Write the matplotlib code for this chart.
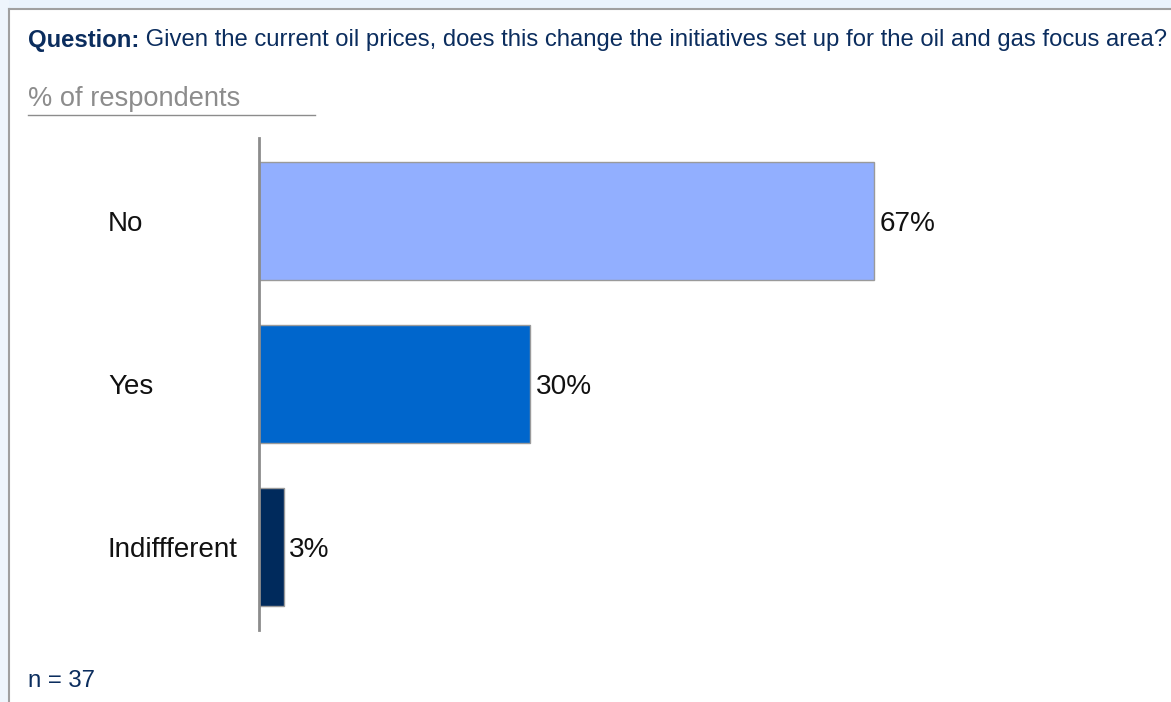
import matplotlib
matplotlib.use("Agg")
import matplotlib.pyplot as plt
import matplotlib.transforms as mtransforms
from matplotlib.lines import Line2D
from matplotlib.patches import Rectangle

plt.rcParams['font.family'] = ['Liberation Sans', 'DejaVu Sans']

categories = ["No", "Yes", "Indiffferent"]
values = [67.6, 29.8, 2.7]
value_labels = ["67%", "30%", "3%"]
colors = ["#92AFFF", "#0066CC", "#002A5C"]
question_prefix = "Question:"
question_text = " Given the current oil prices, does this change the initiatives set up for the oil and gas focus area?"
unit_label = "% of respondents"
sample_note = "n = 37"

W, H = 1171, 702
fig = plt.figure(figsize=(W / 100, H / 100), dpi=100)
fig.patch.set_facecolor("white")

def fx(px):
    return px / W

def fy(py):
    return 1 - py / H

# frame with light glow
fig.add_artist(Rectangle((0, fy(9)), 1, 9 / H, transform=fig.transFigure,
                         facecolor="#EAF3FC", edgecolor="none", zorder=0))
fig.add_artist(Rectangle((0, 0), 9 / W, 1, transform=fig.transFigure,
                         facecolor="#EEF5FC", edgecolor="none", zorder=0))
fig.add_artist(Line2D([fx(9), 1], [fy(9), fy(9)], transform=fig.transFigure,
                      color="#A0A0A0", lw=1.5, zorder=1))
fig.add_artist(Line2D([fx(9), fx(9)], [0, fy(9)], transform=fig.transFigure,
                      color="#A0A0A0", lw=1.5, zorder=1))

navy = "#0B2D5E"
t1 = fig.text(fx(28), fy(40), question_prefix, fontsize=17.2, fontweight="bold",
              color=navy, va="center", ha="left")
fig.canvas.draw()
bb = t1.get_window_extent()
fig.text(bb.x1 / W, fy(40), question_text, fontsize=17.2, color=navy,
         va="center", ha="left")

fig.text(fx(28), fy(99), unit_label, fontsize=19.6, color="#8C8C8C",
         va="center", ha="left")
fig.add_artist(Line2D([fx(28), fx(315)], [fy(115), fy(115)], transform=fig.transFigure,
                      color="#8C8C8C", lw=1))

fig.text(fx(28), fy(681), sample_note, fontsize=17.3, color=navy, va="center", ha="left")

# axes
ax_left, ax_right = 259, 1169
ax_top, ax_bot = 138, 630
ax = fig.add_axes([fx(ax_left), fy(ax_bot), (ax_right - ax_left) / W, (ax_bot - ax_top) / H])
ax.set_facecolor("none")
ypos = list(range(len(categories)))
ax.barh(ypos, values, height=0.725, color=colors, edgecolor="#9A9A9A", linewidth=1, zorder=2)
ax.set_xlim(0, (ax_right - ax_left) / 9.10)
ax.set_ylim(2.51, -0.51)
for s in ["top", "right", "bottom"]:
    ax.spines[s].set_visible(False)
ax.spines["left"].set_color("#8C8C8C")
ax.spines["left"].set_linewidth(2)
ax.spines["left"].set_zorder(3)
ax.set_xticks([])
ax.set_yticks([])

for y, v, lab in zip(ypos, values, value_labels):
    ax.annotate(lab, (v, y), xytext=(4, -2), textcoords="offset points",
                fontsize=20.2, color="#111111", va="center", ha="left")

trans = mtransforms.blended_transform_factory(fig.transFigure, ax.transData)
for y, c in zip(ypos, categories):
    ax.annotate(c, (fx(108), y), xycoords=trans, xytext=(0, -2), textcoords="offset points",
                fontsize=20, color="#111111", va="center", ha="left")

fig.savefig("out.png", dpi=100)
